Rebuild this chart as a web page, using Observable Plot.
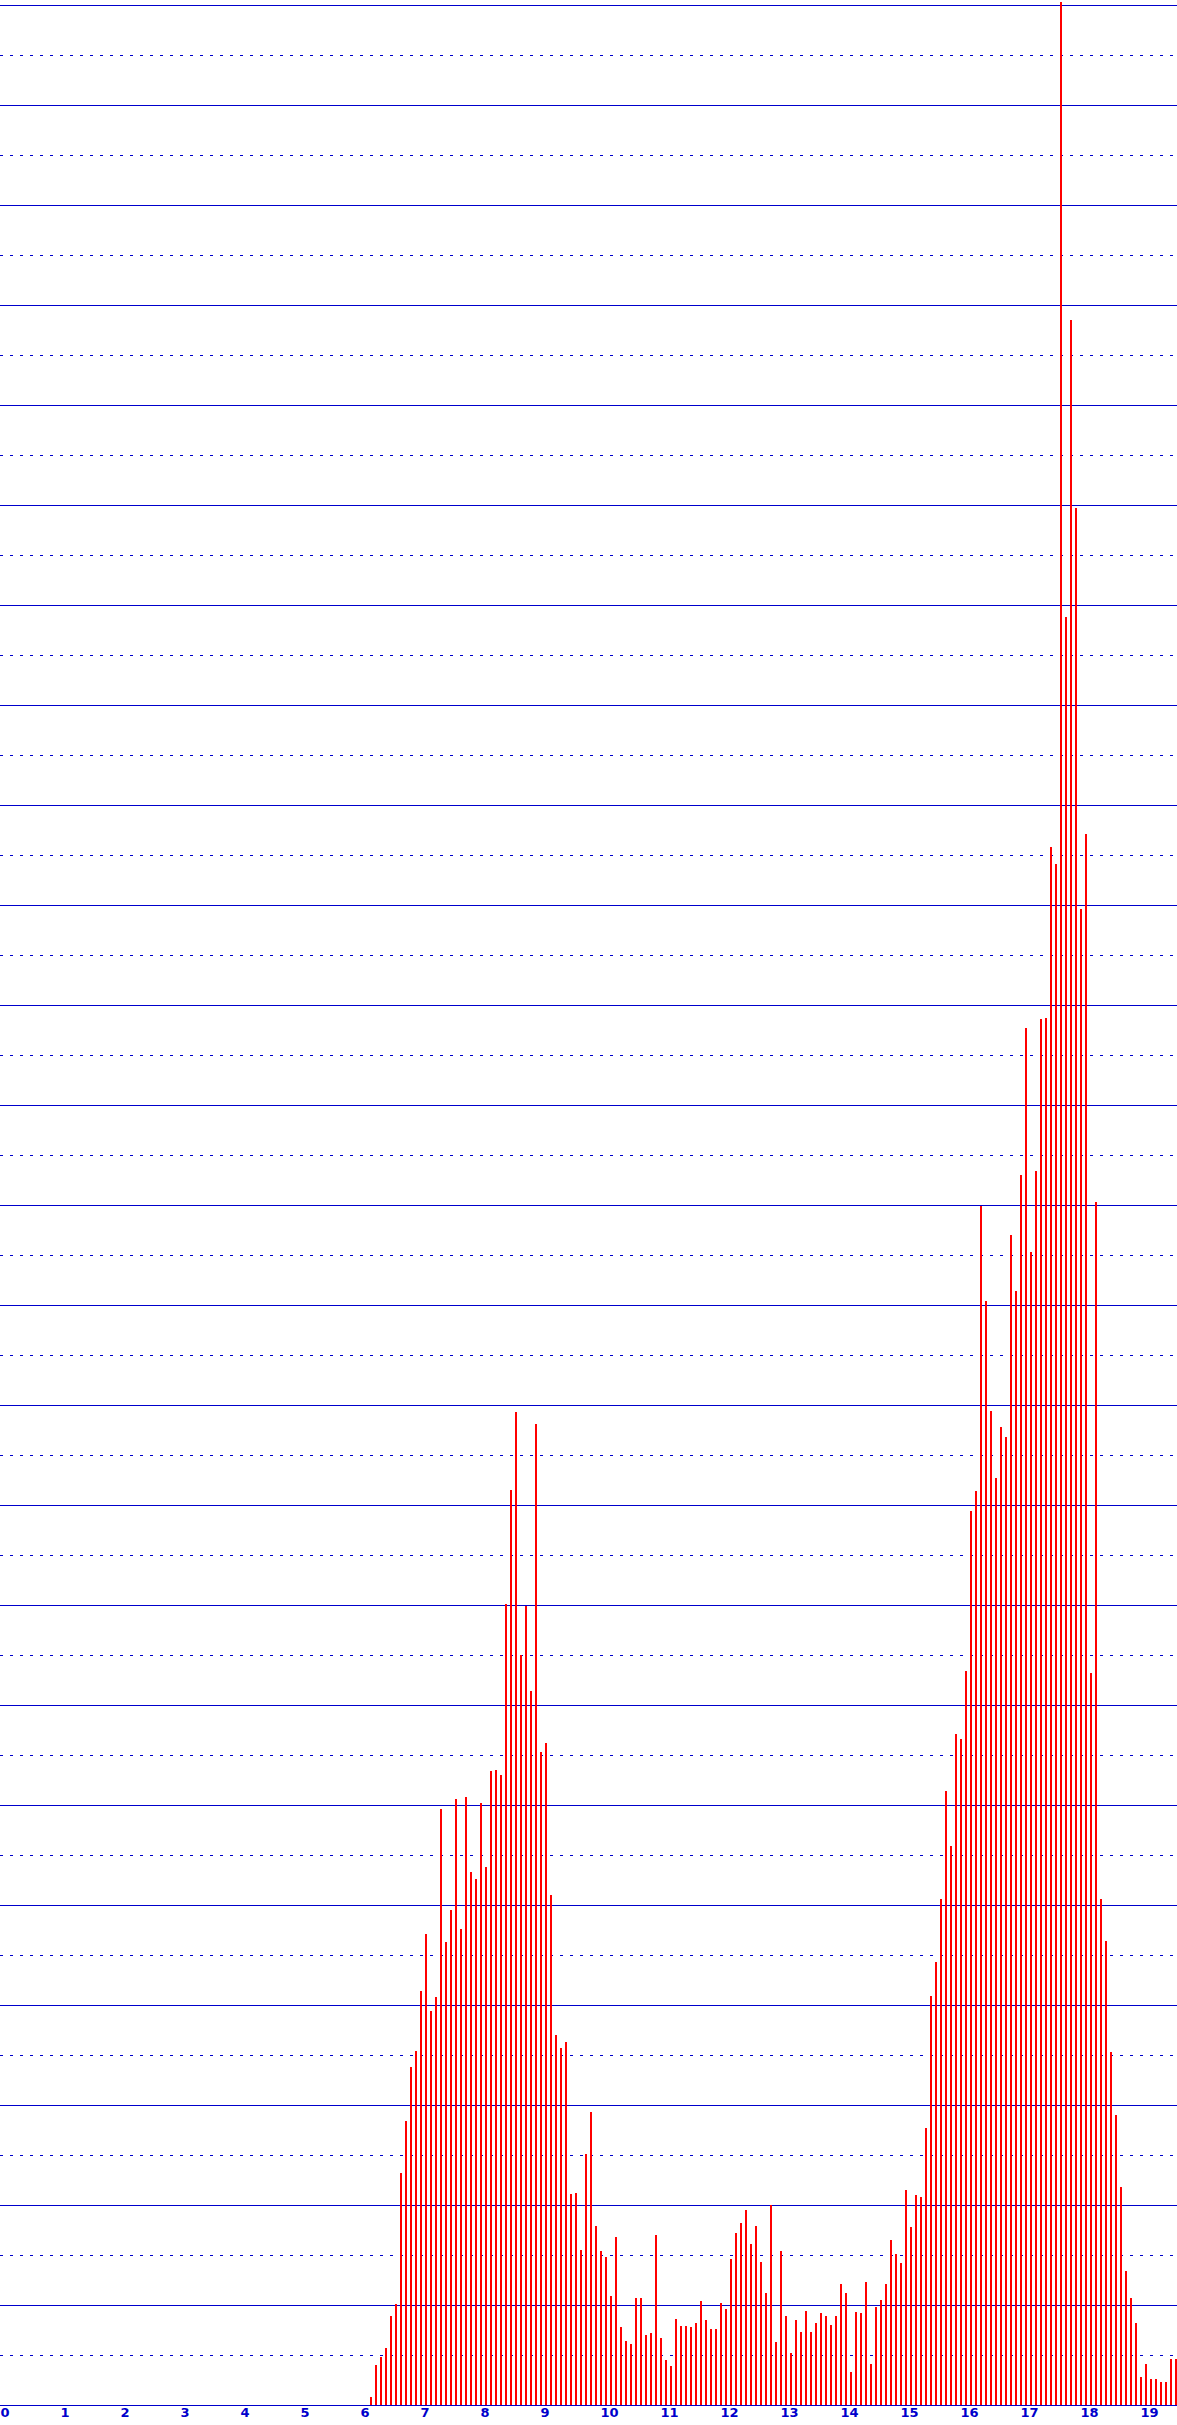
<!DOCTYPE html>
<html><head><meta charset="utf-8">
<script src="https://cdn.jsdelivr.net/npm/d3@7"></script>
<script src="https://cdn.jsdelivr.net/npm/@observablehq/plot@0.6"></script>
<style>html,body{margin:0;padding:0;background:#fff;} svg{display:block;}</style>
</head><body><div id="chart"></div>
<script>
// 5-minute bins, x in hours of the day
const firstBin = 74;          // index of the first drawn 5-minute bin
const binsPerHour = 12;
const counts = [
  0.8, 4.0, 4.8, 5.7, 8.9, 10.1, 23.2, 28.4, 33.8, 35.4,
  41.4, 47.1, 39.4, 40.8, 59.6, 46.3, 49.5, 60.6, 47.6, 60.8,
  53.3, 52.6, 60.2, 53.8, 63.4, 63.5, 63.0, 80.1, 91.5, 99.3,
  75.0, 79.9, 71.4, 98.1, 65.3, 66.2, 51.0, 37.0, 35.7, 36.3,
  21.1, 21.2, 15.5, 25.1, 29.3, 17.9, 15.4, 14.8, 10.9, 16.8,
  7.8, 6.4, 6.1, 10.7, 10.7, 7.0, 7.2, 17.0, 6.7, 4.5,
  3.9, 8.6, 7.9, 7.9, 7.8, 8.2, 10.4, 8.5, 7.6, 7.6,
  10.2, 9.6, 14.6, 17.2, 18.2, 19.5, 16.1, 17.9, 14.3, 11.2,
  20.0, 6.3,
  15.4, 8.9, 5.2, 8.5, 7.3, 9.4, 7.3, 8.2, 9.2, 8.9,
  8.0, 8.9, 12.1, 11.2, 3.3, 9.3, 9.2, 12.3, 4.1, 9.8,
  10.5, 12.1, 16.5, 15.1, 14.2, 21.5, 17.8, 21.0, 20.8, 27.7,
  40.9, 44.3, 50.6, 61.4, 55.9, 67.1, 66.6, 73.4, 89.4, 91.4,
  119.9, 110.4, 99.4, 92.7, 97.8, 96.8, 117.0, 111.4, 123.0,
  137.7, 115.3, 123.4, 138.6, 138.7, 155.8, 154.1, 240.3, 178.8, 208.5,
  189.7, 149.6, 157.1, 73.2, 120.3,
  50.6, 46.4, 35.3, 29.0, 21.8, 13.4, 10.7, 8.2, 2.8, 4.1,
  2.6, 2.6, 2.3, 2.3, 4.6, 4.6
];
const tickLabels = [0, 1, 2, 3, 4, 5, 6, 7, 8, 9, 10, 11, 12, 13, 14, 15, 16, 17, 18, 19];
const solidGrid = d3.range(0, 241, 10);
const dashedGrid = d3.range(5, 240, 10);

const bars = counts.map((c, i) => ({t: (firstBin + i) / binsPerHour, count: c}));
const BLUE = "#0000cc";

const chart = Plot.plot({
  width: 1177,
  height: 2425,
  marginTop: 0, marginBottom: 0, marginLeft: 0, marginRight: 0,
  x: {domain: [0, 1177 / 60], range: [0, 1177], axis: null},
  y: {domain: [0, 240], range: [2405, 5], axis: null},
  style: {background: "#ffffff", overflow: "visible"},
  marks: [
    Plot.ruleY(solidGrid, {stroke: BLUE, strokeWidth: 1}),
    Plot.ruleY(dashedGrid, {stroke: BLUE, strokeWidth: 1, strokeDasharray: "3,7"}),
    Plot.ruleX(bars, {x: "t", y1: 0, y2: "count", stroke: "#ff0000", strokeWidth: 2, dx: 0.5}),
    Plot.text(tickLabels, {
      x: d => d, y: 0, text: d => String(d), dy: 7,
      textAnchor: "start", fill: BLUE, fontWeight: "bold",
      fontSize: 13, fontFamily: "DejaVu Sans"
    })
  ]
});
document.getElementById("chart").appendChild(chart);
</script>
</body></html>
